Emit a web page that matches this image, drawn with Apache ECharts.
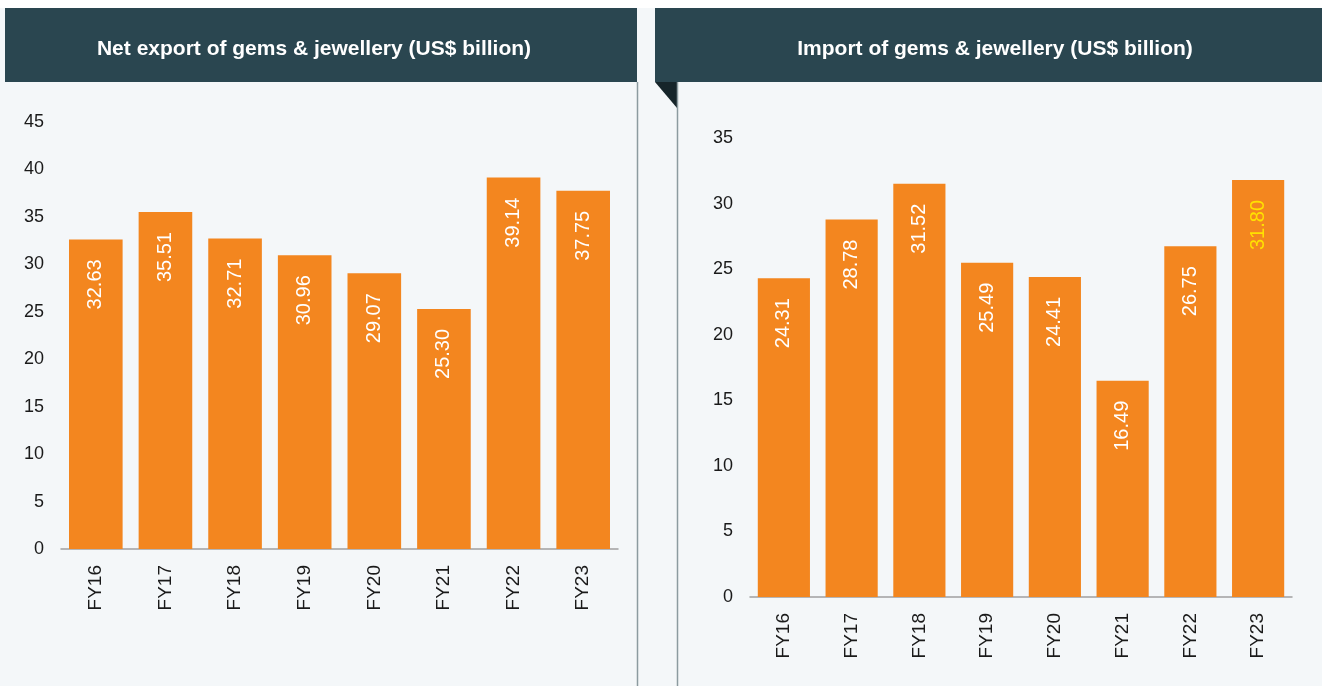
<!DOCTYPE html>
<html>
<head>
<meta charset="utf-8">
<script src="https://cdn.jsdelivr.net/npm/echarts@6/dist/echarts.min.js"></script>
<style>
  html, body { margin: 0; padding: 0; background: #f4f7f9; }
  #main { width: 1322px; height: 686px; }
</style>
</head>
<body>
<div id="main"></div>
<script>
// data
const years = ['FY16', 'FY17', 'FY18', 'FY19', 'FY20', 'FY21', 'FY22', 'FY23'];
const netExport = [32.63, 35.51, 32.71, 30.96, 29.07, 25.30, 39.14, 37.75];
const imports = [24.31, 28.78, 31.52, 25.49, 24.41, 16.49, 26.75, 31.80];
const leftTicks = [0, 45, 5];   // min, max, step
const rightTicks = [0, 35, 5];

const orange = '#f3861f';
const headerColor = '#2a4650';
const panelColor = '#f4f7f9';

let myChart = echarts.init(document.getElementById('main'));

// value labels sit inside the top of each bar, turned to read upwards
function barLabel() {
  return {
    show: true,
    position: 'insideTop',
    rotate: 90,
    align: 'right',
    verticalAlign: 'middle',
    distance: 20,
    color: '#fff',
    fontSize: 20,
    fontFamily: 'Liberation Sans, Arial, sans-serif',
    formatter: p => p.value.toFixed(2)
  };
}

function buildSeries(values, axisIdx, yellowIdx) {
  return {
    type: 'bar',
    xAxisIndex: axisIdx,
    yAxisIndex: axisIdx,
    barWidth: '77%',
    itemStyle: { color: orange },
    label: barLabel(),
    data: values.map((v, i) => {
      if (i === yellowIdx) {
        return { value: v, label: { color: '#ffe100' } };
      }
      return v;
    })
  };
}

const axisText = { color: '#1a1a1a', fontSize: 18, fontFamily: 'Liberation Sans, Arial, sans-serif' };

function xAxisFor(grid) {
  return {
    type: 'category',
    gridIndex: grid,
    data: years,
    axisLine: { lineStyle: { color: '#a0a0a0', width: 1.5 } },
    axisTick: { length: 6, lineStyle: { color: '#a0a0a0', width: 1.5 } },
    axisLabel: Object.assign({}, axisText, { rotate: 90, margin: 16, fontSize: 19 })
  };
}

function yAxisFor(grid, t) {
  return {
    type: 'value',
    gridIndex: grid,
    min: t[0],
    max: t[1],
    interval: t[2],
    splitLine: { show: false },
    axisLine: { show: false },
    axisTick: { show: false },
    axisLabel: Object.assign({ margin: 17 }, axisText)
  };
}

const option = {
  backgroundColor: panelColor,
  animation: false,
  graphic: [
    { type: 'rect', z: -10, shape: { x: 0, y: 0, width: 1322, height: 8 }, style: { fill: '#ffffff' } },
    // left panel
    { type: 'rect', z: -5, shape: { x: 5, y: 8, width: 632, height: 74 }, style: { fill: headerColor } },
    { type: 'line', z: -5, shape: { x1: 637.5, y1: 82, x2: 637.5, y2: 686 }, style: { stroke: '#8c9ba0', lineWidth: 1.5 } },
    // right panel
    { type: 'rect', z: -5, shape: { x: 655, y: 8, width: 667, height: 74 }, style: { fill: headerColor } },
    { type: 'polygon', z: -5, shape: { points: [[655, 82], [677, 82], [677, 108]] }, style: { fill: '#16252a' } },
    { type: 'line', z: -5, shape: { x1: 677.5, y1: 82, x2: 677.5, y2: 686 }, style: { stroke: '#8c9ba0', lineWidth: 1.5 } }
  ],
  title: [
    {
      text: 'Net export of gems & jewellery (US$ billion)',
      left: 309, top: 34, textAlign: 'center',
      textStyle: { color: '#fff', fontSize: 21, fontWeight: 'bold', fontFamily: 'Liberation Sans Narrow, Arial Narrow, sans-serif' }
    },
    {
      text: 'Import of gems & jewellery (US$ billion)',
      left: 990, top: 34, textAlign: 'center',
      textStyle: { color: '#fff', fontSize: 21, fontWeight: 'bold', fontFamily: 'Liberation Sans Narrow, Arial Narrow, sans-serif' }
    }
  ],
  grid: [
    { left: 61, top: 122, width: 557, height: 427 },
    { left: 750, top: 138, width: 542, height: 459 }
  ],
  xAxis: [xAxisFor(0), xAxisFor(1)],
  yAxis: [yAxisFor(0, leftTicks), yAxisFor(1, rightTicks)],
  series: [
    buildSeries(netExport, 0, -1),
    buildSeries(imports, 1, 7)
  ]
};

myChart.setOption(option);
</script>
</body>
</html>
